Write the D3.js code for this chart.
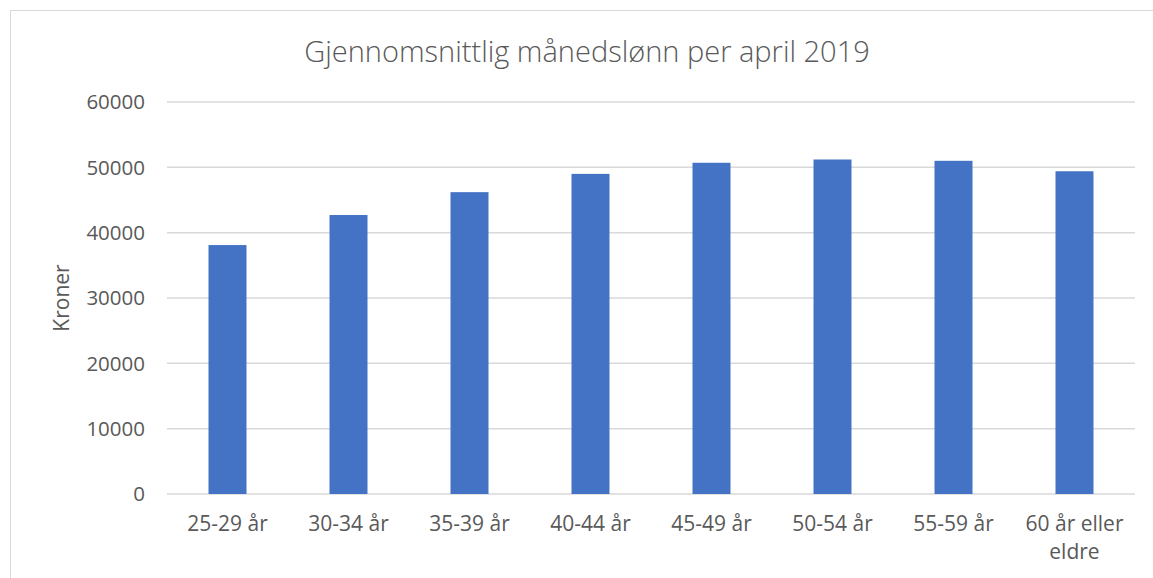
<!DOCTYPE html>
<html>
<head>
<meta charset="utf-8">
<script src="https://cdn.jsdelivr.net/npm/d3@7"></script>
<style>
  body { margin: 0; background: #fff; }
  text { font-family: "Open Sans", "Liberation Sans", sans-serif; fill: #595959; }
</style>
</head>
<body>
<div id="vis"></div>
<script>
var width = 1153,
    height = 578;

// data
var categories = ["25-29 år", "30-34 år", "35-39 år", "40-44 år", "45-49 år", "50-54 år", "55-59 år", "60 år eller eldre"];
var values = [38100, 42700, 46200, 49000, 50700, 51200, 51000, 49400];
var yTicks = [0, 10000, 20000, 30000, 40000, 50000, 60000];
var title = "Gjennomsnittlig månedslønn per april 2019";
var yTitle = "Kroner";

var margin = {left: 167, right: 18, top: 102, bottom: 84};

var svg = d3.select("#vis").append("svg")
    .attr("width", width)
    .attr("height", height);

// chart frame
svg.append("rect")
    .attr("x", 10.5)
    .attr("y", 10.5)
    .attr("width", width + 10)
    .attr("height", height + 10)
    .attr("fill", "none")
    .attr("stroke", "#d9d9d9")
    .attr("stroke-width", 1);

// bit of text from the page above
svg.append("text")
    .attr("x", 10)
    .attr("y", -12)
    .style("fill", "#000")
    .style("font-size", "22px")
    .text("y");

var x = d3.scaleBand()
    .domain(categories)
    .range([margin.left, width - margin.right])
    .paddingInner(0.686)
    .paddingOuter(0.343);

var y = d3.scaleLinear()
    .domain([0, 60000])
    .range([height - margin.bottom, margin.top]);

// gridlines
svg.append("g")
    .selectAll("line")
    .data(yTicks)
    .enter()
    .append("line")
    .attr("x1", margin.left)
    .attr("x2", width - margin.right)
    .attr("y1", function(d) { return y(d); })
    .attr("y2", function(d) { return y(d); })
    .attr("stroke", "#d9d9d9")
    .attr("stroke-width", 1.5);

// y tick labels
svg.append("g")
    .selectAll("text")
    .data(yTicks)
    .enter()
    .append("text")
    .attr("x", 145)
    .attr("y", function(d) { return y(d); })
    .attr("dy", "0.35em")
    .attr("text-anchor", "end")
    .style("font-size", "20.5px")
    .text(function(d) { return d; });

// bars
svg.append("g")
    .selectAll("rect")
    .data(values)
    .enter()
    .append("rect")
    .attr("x", function(d, i) { return x(categories[i]); })
    .attr("width", x.bandwidth())
    .attr("y", function(d) { return y(d); })
    .attr("height", function(d) { return y(0) - y(d); })
    .attr("fill", "#4472c4");

// x labels (wrap the long one like Excel)
var xl = svg.append("g")
    .selectAll("text")
    .data(categories)
    .enter()
    .append("text")
    .attr("text-anchor", "middle")
    .attr("y", 531)
    .style("font-size", "21px");

xl.each(function(d) {
    var t = d3.select(this);
    var cx = x(d) + x.bandwidth() / 2;
    var lines = d === "60 år eller eldre" ? ["60 år eller", "eldre"] : [d];
    lines.forEach(function(l, j) {
        t.append("tspan")
            .attr("x", cx)
            .attr("dy", j === 0 ? 0 : 28)
            .text(l);
    });
});

// axis title
svg.append("text")
    .attr("transform", "translate(69," + ((margin.top + height - margin.bottom) / 2) + ") rotate(-90)")
    .attr("text-anchor", "middle")
    .style("font-size", "21px")
    .text(yTitle);

// chart title
svg.append("text")
    .attr("x", 587)
    .attr("y", 62)
    .attr("text-anchor", "middle")
    .style("font-size", "29px")
    .style("font-weight", "300")
    .text(title);
</script>
</body>
</html>
